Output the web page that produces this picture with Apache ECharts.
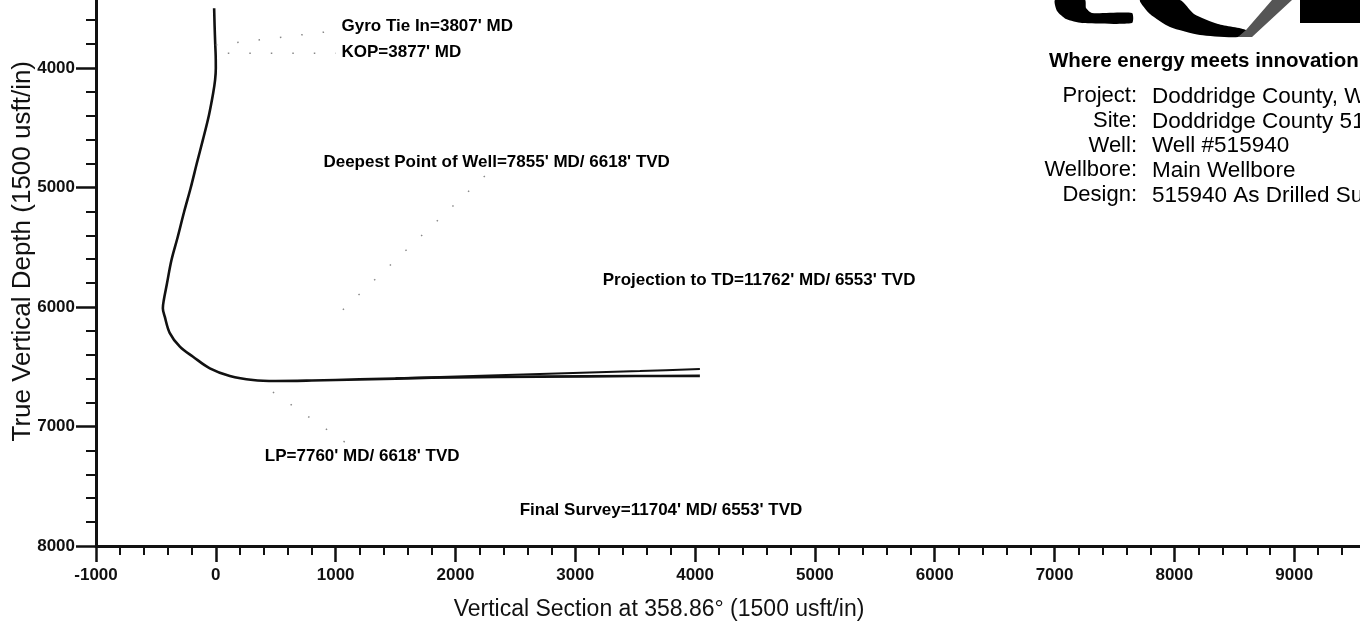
<!DOCTYPE html>
<html>
<head>
<meta charset="utf-8">
<title>Vertical Section</title>
<script src="https://cdn.jsdelivr.net/npm/echarts@6.0.0/dist/echarts.min.js"></script>
<style>
  html, body { margin: 0; padding: 0; background: #fff; }
  #chart { width: 1360px; height: 625px; }
</style>
</head>
<body>
<div id="chart"></div>
<script>
// survey path, [vertical section, TVD] usft
var wellPath = [
  [-14, 3500], [-10, 3650], [-5, 3800], [-1, 3900], [0, 4000], [-6, 4100],
  [-22, 4210], [-57, 4393], [-108, 4602], [-158, 4795], [-210, 5004],
  [-265, 5205], [-318, 5414], [-370, 5607], [-410, 5816], [-434, 5941],
  [-442, 6010], [-426, 6081], [-384, 6218], [-300, 6332], [-190, 6416],
  [-50, 6513], [117, 6577], [310, 6611], [500, 6619], [800, 6615],
  [1200, 6606], [1600, 6597], [2000, 6589], [2700, 6583], [3500, 6578],
  [4040, 6576]
];
// upper branch of the lateral (projection)
var lateralUpper = [
  [1500, 6597], [1870, 6586], [2704, 6561], [3539, 6536], [4040, 6519]
];

var noteTexts = [
  "Gyro Tie In=3807' MD",
  "KOP=3877' MD",
  "Deepest Point of Well=7855' MD/ 6618' TVD",
  "Projection to TD=11762' MD/ 6553' TVD",
  "LP=7760' MD/ 6618' TVD",
  "Final Survey=11704' MD/ 6553' TVD"
];
var notePos = [
  [1049, 3649], [1049, 3870], [898, 4792], [3229, 5774], [409, 7247], [2536, 7699]
];
// faint dotted leaders from the notes
var leaders = [
  [[0, 3807], [990, 3690]],
  [[100, 3877], [1000, 3877]],
  [[2245, 4904], [951, 6126]],
  [[1076, 7130], [392, 6653]]
];

var headerKeys = ['Project:', 'Site:', 'Well:', 'Wellbore:', 'Design:'];
var headerValues = ['Doddridge County, WV', 'Doddridge County 515940', 'Well #515940', 'Main Wellbore', '515940 As Drilled Surveys'];

var FONT = 'Liberation Sans, Arial, Helvetica, sans-serif';
var chart = echarts.init(document.getElementById('chart'));

var series = [
  {
    type: 'line', data: wellPath, smooth: 0.35, showSymbol: false, silent: true,
    lineStyle: { color: '#111', width: 2.6 }
  },
  {
    type: 'line', data: lateralUpper, smooth: 0.3, showSymbol: false, silent: true,
    lineStyle: { color: '#111', width: 2 }
  },
  {
    type: 'scatter', symbolSize: 0, silent: true,
    itemStyle: { opacity: 1 },
    data: notePos.map(function (p, i) { return [p[0], p[1], noteTexts[i]]; }),
    label: {
      show: true, position: 'right', distance: 0,
      formatter: function (p) { return p.data[2]; },
      color: '#000', opacity: 1, fontFamily: FONT, fontSize: 17, fontWeight: 'bold'
    }
  }
];
leaders.forEach(function (seg) {
  series.push({
    type: 'line', data: seg, showSymbol: false, silent: true,
    lineStyle: { color: '#888', width: 1.5, type: [1.5, 20] }
  });
});

var headerGraphics = [{
  type: 'text', left: 1049, top: 51,
  style: { text: 'Where energy meets innovation', font: '900 20.5px ' + FONT, fill: '#000' }
}];
headerKeys.forEach(function (k, i) {
  var y = 85 + i * 24.8;
  headerGraphics.push({
    type: 'text', x: 1137, y: y,
    style: { text: k, font: '22px ' + FONT, fill: '#000', align: 'right' }
  });
  headerGraphics.push({
    type: 'text', x: 1152, y: y,
    style: { text: headerValues[i], font: '22.5px ' + FONT, fill: '#000', align: 'left' }
  });
});
// logo fragment at the top right (cut off by the page edge)
headerGraphics.push(
  { type: 'polygon', shape: { points: [[1055, 0], [1057, 11], [1066, 19], [1082, 23], [1132, 23], [1132, 13], [1092, 13], [1086, 8], [1085, 0]], smooth: 0.2 }, style: { fill: '#000' } },
  { type: 'polygon', shape: { points: [[1140, 0], [1150, 14], [1170, 27], [1200, 35], [1238, 37], [1246, 30], [1218, 24], [1194, 14], [1180, 0]], smooth: 0.2 }, style: { fill: '#000' } },
  { type: 'polygon', shape: { points: [[1238, 37], [1252, 37], [1292, 0], [1272, 0], [1246, 30]] }, style: { fill: '#555' } },
  { type: 'rect', shape: { x: 1300, y: 0, width: 60, height: 23 }, style: { fill: '#000' } }
);

chart.setOption({
  animation: false,
  backgroundColor: '#fff',
  grid: { left: 96, right: -54, top: -51.5, bottom: 79, containLabel: false, outerBoundsMode: 'none' },
  xAxis: {
    type: 'value', min: -1000, max: 10000, interval: 1000,
    name: 'Vertical Section at 358.86° (1500 usft/in)',
    nameLocation: 'middle', nameGap: 52, nameMoveOverlap: false,
    nameTextStyle: { fontFamily: FONT, fontSize: 23, color: '#111', padding: [0, 192, 0, 0] },
    axisLine: { onZero: false, lineStyle: { color: '#111', width: 3 } },
    axisTick: { length: 16, lineStyle: { color: '#111', width: 2.5 } },
    minorTick: { show: true, splitNumber: 5, length: 9, lineStyle: { color: '#111', width: 2 } },
    splitLine: { show: false },
    axisLabel: {
      margin: 21, showMaxLabel: false, color: '#111',
      fontFamily: FONT, fontSize: 17, fontWeight: 'bold',
      formatter: function (v) { return String(v); }
    }
  },
  yAxis: {
    type: 'value', inverse: true, min: 3000, max: 8000, interval: 1000,
    name: 'True Vertical Depth (1500 usft/in)',
    nameLocation: 'middle', nameGap: 60, nameRotate: 90, nameMoveOverlap: false,
    nameTextStyle: { fontFamily: FONT, fontSize: 26, color: '#111', padding: [0, 8, 0, 0] },
    axisLine: { onZero: false, lineStyle: { color: '#111', width: 3 } },
    axisTick: { length: 20, lineStyle: { color: '#111', width: 2.5 } },
    minorTick: { show: true, splitNumber: 5, length: 10, lineStyle: { color: '#111', width: 2 } },
    splitLine: { show: false },
    axisLabel: {
      margin: 21, showMinLabel: false, color: '#111',
      fontFamily: FONT, fontSize: 17, fontWeight: 'bold',
      formatter: function (v) { return String(v); }
    }
  },
  graphic: headerGraphics,
  series: series
});
</script>
</body>
</html>
